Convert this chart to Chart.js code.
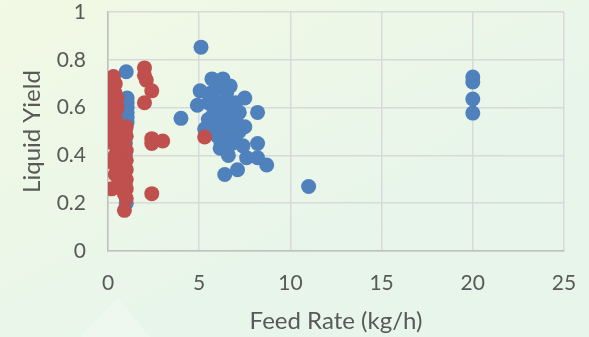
<!DOCTYPE html>
<html>
<head>
<meta charset="utf-8">
<script src="https://cdn.jsdelivr.net/npm/chart.js@4/dist/chart.umd.min.js"></script>
<style>
  html, body { margin: 0; padding: 0; }
  body { width: 589px; height: 337px; overflow: hidden; }
  #wrap { position: relative; width: 589px; height: 337px; }
</style>
</head>
<body>
<div id="wrap"><canvas id="chart" width="589" height="337"></canvas></div>
<script>
// Axis ticks
const xTicks = [0, 5, 10, 15, 20, 25];
const yTicks = [0, 0.2, 0.4, 0.6, 0.8, 1];

// Series A (blue): feed rate (kg/h) and liquid yield
const blueFeed = [
  1.0, 1.05, 1.05, 1.05, 1.05, 1.05, 1.05, 0.95, 0.95, 0.95, 0.95, 0.95, 1.0,
  4.0, 5.1,
  5.7, 6.3, 6.7, 5.05, 7.5, 4.9, 8.2, 7.5, 5.3, 8.2, 6.15, 6.6, 7.4, 7.6, 8.2, 8.7, 6.4, 7.1,
  5.6, 6.0, 6.5, 5.5, 6.0, 6.5, 7.0, 5.8, 6.3, 6.8, 7.2, 5.5, 6.0, 6.5, 7.0,
  5.8, 6.3, 6.8, 6.0, 6.5, 7.0, 6.2, 6.8, 6.5, 7.2, 6.9, 6.1,
  11.0,
  20.0, 20.0, 20.0, 20.0
];
const blueYield = [
  0.75, 0.64, 0.62, 0.60, 0.58, 0.56, 0.54, 0.50, 0.45, 0.40, 0.35, 0.28, 0.20,
  0.555, 0.853,
  0.72, 0.72, 0.69, 0.67, 0.64, 0.61, 0.58, 0.52, 0.51, 0.45, 0.43, 0.40, 0.44, 0.39, 0.39, 0.36, 0.32, 0.34,
  0.66, 0.68, 0.66, 0.62, 0.62, 0.62, 0.62, 0.58, 0.58, 0.58, 0.58, 0.55, 0.55, 0.55, 0.55,
  0.52, 0.52, 0.52, 0.48, 0.48, 0.48, 0.45, 0.45, 0.50, 0.50, 0.60, 0.70,
  0.27,
  0.728, 0.707, 0.636, 0.577
];

// Series B (red): feed rate (kg/h) and liquid yield
const redFeed = [
  0.1, 0.3, 0.2, 0.1, 0.2, 0.1, 0.3, 0.1, 0.2, 0.1, 0.3, 0.1, 0.2, 0.1, 0.3,
  0.5, 0.5, 0.6, 0.05, 0.8, 1.0, 0.9, 1.0, 0.8, 1.0, 0.9, 1.0, 0.8, 1.0, 0.9,
  1.0, 0.2, 1.0, 0.9, 0.9, 0.6, 0.5, 0.7, 0.4, 0.6,
  0.4, 0.4, 0.5, 0.4, 0.5, 0.4, 0.5, 0.4, 0.6, 0.9, 1.0, 0.9,
  2.0, 2.0, 2.1, 2.4, 2.0, 2.4, 2.4, 3.0, 2.4,
  5.3
];
const redYield = [
  0.72, 0.73, 0.70, 0.67, 0.65, 0.63, 0.61, 0.59, 0.57, 0.55, 0.53, 0.51, 0.49, 0.47, 0.45,
  0.60, 0.52, 0.46, 0.375, 0.50, 0.48, 0.44, 0.42, 0.40, 0.38, 0.36, 0.34, 0.32, 0.30, 0.28,
  0.26, 0.26, 0.22, 0.24, 0.17, 0.42, 0.44, 0.36, 0.40, 0.30,
  0.70, 0.66, 0.64, 0.56, 0.48, 0.38, 0.34, 0.32, 0.28, 0.46, 0.52, 0.50,
  0.766, 0.735, 0.715, 0.67, 0.62, 0.47, 0.45, 0.46, 0.24,
  0.477
];

const toPoints = (xs, ys) => xs.map((x, i) => ({ x: x, y: ys[i] }));

// Soft backdrop: pale green gradient with a faint lighter wedge at the lower left
const backdrop = {
  id: 'backdrop',
  beforeDraw(chart) {
    const { ctx, width, height } = chart;
    ctx.save();
    const g = ctx.createLinearGradient(0, 0, width * 0.3, height);
    g.addColorStop(0, '#f2f9e4');
    g.addColorStop(1, '#e7f5ea');
    ctx.fillStyle = g;
    ctx.fillRect(0, 0, width, height);
    ctx.fillStyle = 'rgba(255,255,255,0.25)';
    ctx.beginPath();
    ctx.moveTo(118, 298);
    ctx.lineTo(150, height);
    ctx.lineTo(80, height);
    ctx.closePath();
    ctx.fill();
    ctx.restore();
  }
};

const font = { family: 'Lato, "Open Sans", sans-serif', size: 21 };
const titleFont = { family: 'Lato, "Open Sans", sans-serif', size: 24 };

new Chart(document.getElementById('chart'), {
  type: 'scatter',
  data: {
    datasets: [
      {
        label: 'B',
        data: toPoints(redFeed, redYield),
        backgroundColor: '#c0504d',
        borderColor: '#c0504d',
        pointRadius: 7.5,
        pointBorderWidth: 0,
        pointHoverRadius: 7.5
      },
      {
        label: 'A',
        data: toPoints(blueFeed, blueYield),
        backgroundColor: '#4f81bd',
        borderColor: '#4f81bd',
        pointRadius: 7.5,
        pointBorderWidth: 0,
        pointHoverRadius: 7.5
      }
    ]
  },
  options: {
    responsive: false,
    animation: false,
    events: [],
    layout: { padding: { left: 0, right: 25, top: 12, bottom: 0 } },
    plugins: {
      legend: { display: false },
      tooltip: { enabled: false }
    },
    scales: {
      x: {
        type: 'linear',
        min: 0,
        max: 25,
        afterBuildTicks(scale) { scale.ticks = xTicks.map(v => ({ value: v })); },
        afterFit(scale) {
          scale.height = 86;
          scale.paddingLeft = 0;
          scale.paddingRight = 0;
        },
        grid: { color: '#d9d9d9', lineWidth: 1.5, drawTicks: false },
        border: { color: '#bfbfbf', width: 1.5 },
        ticks: { color: '#595959', font: font, padding: 20, maxRotation: 0 },
        title: {
          display: true,
          text: 'Feed Rate (kg/h)',
          color: '#595959',
          font: titleFont,
          padding: { top: 0, bottom: 1 }
        }
      },
      y: {
        type: 'linear',
        min: 0,
        max: 1,
        afterBuildTicks(scale) { scale.ticks = yTicks.map(v => ({ value: v })); },
        afterFit(scale) {
          scale.width = 108;
          scale.paddingTop = 0;
          scale.paddingBottom = 0;
        },
        grid: { color: '#d9d9d9', lineWidth: 1.5, drawTicks: false },
        border: { color: '#bfbfbf', width: 1.5 },
        ticks: {
          color: '#595959',
          font: font,
          padding: 22,
          callback: v => String(Math.round(v * 10) / 10)
        },
        title: {
          display: true,
          text: 'Liquid Yield',
          color: '#595959',
          font: titleFont,
          padding: { top: 18, bottom: 0 }
        }
      }
    }
  },
  plugins: [backdrop]
});
</script>
</body>
</html>
